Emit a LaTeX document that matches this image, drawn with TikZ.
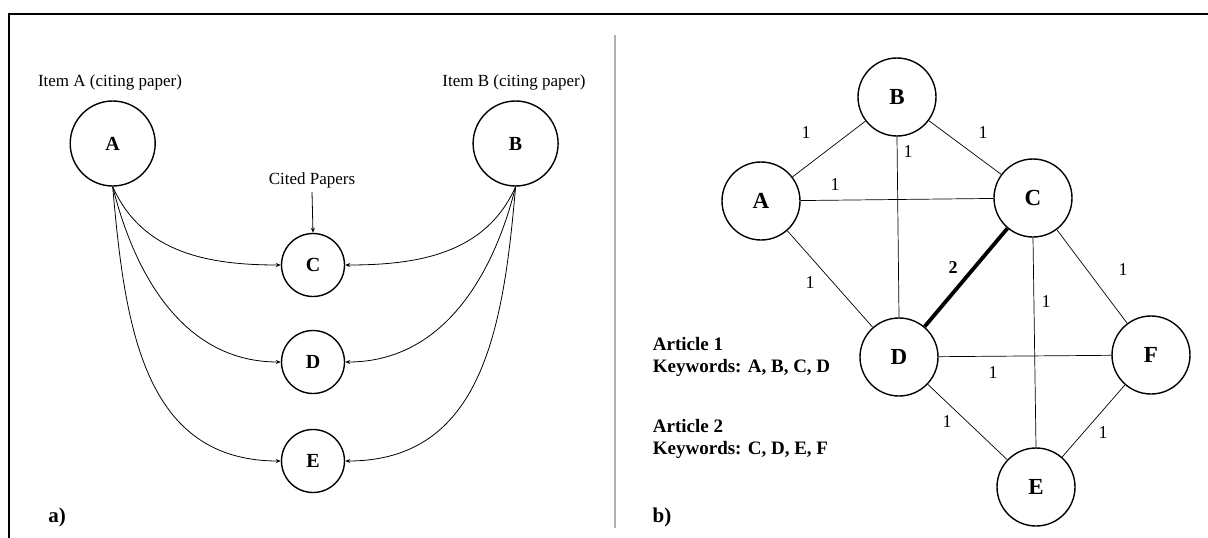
\documentclass[tikz,border=0pt]{standalone}
\usepackage{fontspec}
\setmainfont{Liberation Serif}
\usetikzlibrary{shapes.geometric,arrows.meta}
\begin{document}
\begin{tikzpicture}[x=1pt,y=-1pt,
  bigL/.style={circle,draw,line width=1.4pt,minimum size=85pt,inner sep=0pt,font=\fontsize{20}{22}\selectfont\bfseries},
  smallL/.style={circle,draw,line width=1.4pt,minimum size=63pt,inner sep=0pt,font=\fontsize{20}{22}\selectfont\bfseries},
  kw/.style={circle,draw,line width=1.4pt,minimum size=78pt,inner sep=0pt,font=\fontsize{23}{25}\selectfont\bfseries},
  citearrow/.style={-{Stealth[length=5pt,width=4pt]},line width=0.8pt},
  plainedge/.style={line width=0.7pt},
  wt/.style={font=\fontsize{18}{20}\selectfont,inner sep=0pt},
  itemtxt/.style={font=\fontsize{17}{19}\selectfont,inner sep=0pt},
  arttxt/.style={font=\fontsize{19}{22}\selectfont\bfseries,inner sep=0pt,anchor=west,align=left},
  paneltxt/.style={font=\fontsize{21}{23}\selectfont\bfseries,inner sep=0pt}
]
\useasboundingbox (0,0) rectangle (1208,538);
% frame and divider
\draw[line width=2pt] (9,538) -- (9,13.5) -- (1208,13.5);
\draw[black!30, line width=1.5pt] (615,35) -- (615,528);

% ---------- panel a ----------
\node[itemtxt] (ta) at (110,82) {Item A (citing paper)};
\node[itemtxt] (tb) at (514,82) {Item B (citing paper)};
\node[bigL] (A) at (112.7,143.5) {A};
\node[bigL] (B) at (515.6,143.5) {B};
\node[itemtxt] (cp) at (312,180) {Cited Papers};
\node[smallL] (C) at (313,265) {C};
\node[smallL] (D) at (313,362) {D};
\node[smallL] (E) at (313,461) {E};
\draw[citearrow] (cp.south) ++(0,4) coordinate (cpa) -- (C.north);

\draw[citearrow] (A.south) to[out=-66,in=180] (C.west);
\draw[citearrow] (A.south) to[out=-76,in=180] (D.west);
\draw[citearrow] (A.south) to[out=-85,in=180,looseness=1.1] (E.west);
\draw[citearrow] (B.south) to[out=-114,in=0] (C.east);
\draw[citearrow] (B.south) to[out=-104,in=0] (D.east);
\draw[citearrow] (B.south) to[out=-95,in=0,looseness=1.1] (E.east);

\node[paneltxt] (pa) at (57,517) {a)};

% ---------- panel b ----------
\node[kw] (kB) at (897,97) {B};
\node[kw] (kA) at (761,201) {A};
\node[kw] (kC) at (1033,198) {C};
\node[kw] (kD) at (899,357) {D};
\node[kw] (kF) at (1151,355) {F};
\node[kw] (kE) at (1036,487) {E};

\draw[plainedge] (kA) -- (kB);
\draw[plainedge] (kB) -- (kC);
\draw[plainedge] (kB.south) -- (kD.north);
\draw[plainedge] (kA) -- (kC);
\draw[plainedge] (kA) -- (kD);
\draw[line width=3.8pt] (kC) -- (kD);
\draw[plainedge] (kC) -- (kF);
\draw[plainedge] (kC.south) -- (kE.north);
\draw[plainedge] (kD) -- (kF);
\draw[plainedge] (kD) -- (kE);
\draw[plainedge] (kE) -- (kF);

\node[wt] (w1) at (806,133) {1};
\node[wt] (w2) at (983,133) {1};
\node[wt] (w3) at (908,152) {1};
\node[wt] (w4) at (835,185) {1};
\node[wt] (w5) at (810,283) {1};
\node[wt,font=\fontsize{18}{20}\selectfont\bfseries] (w6) at (953,268) {2};
\node[wt] (w7) at (1123,270) {1};
\node[wt] (w8) at (1046,302) {1};
\node[wt] (w9) at (993,373) {1};
\node[wt] (w10) at (947,422) {1};
\node[wt] (w11) at (1103,433) {1};

\node[arttxt] (a1) at (652.7,357) {Article 1\\Keywords: A, B, C, D};
\node[arttxt] (a2) at (652.7,438.5) {Article 2\\Keywords: C, D, E, F};
\node[paneltxt] (pb) at (662,517) {b)};
\end{tikzpicture}
\end{document}
